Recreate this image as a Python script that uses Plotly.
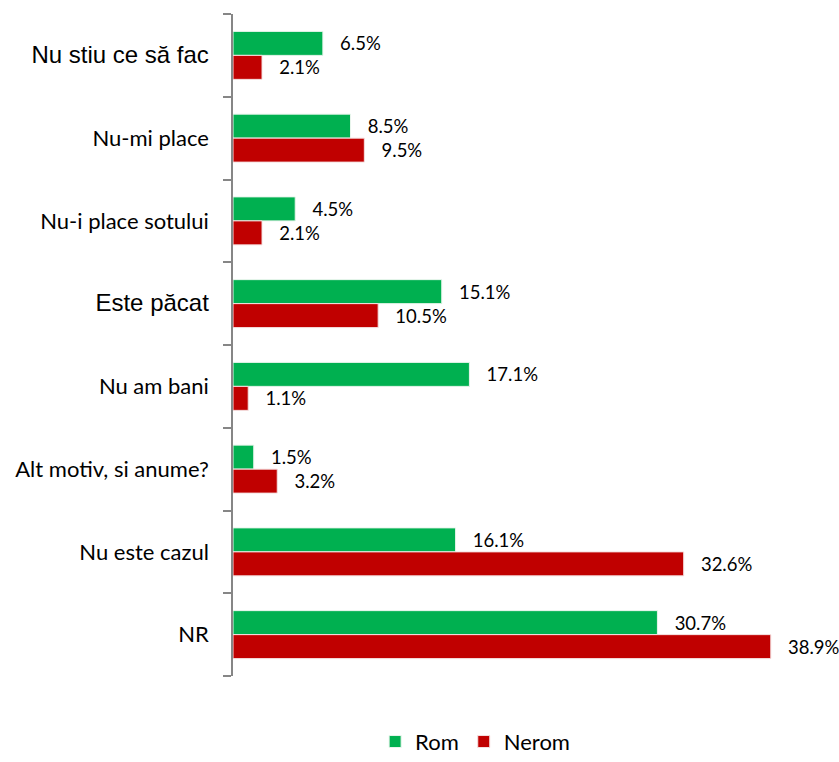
import plotly.graph_objects as go

# Data
categories = ["Nu stiu ce să fac", "Nu-mi place", "Nu-i place sotului", "Este păcat",
              "Nu am bani", "Alt motiv, si anume?", "Nu este cazul", "NR"]
rom = [6.5, 8.5, 4.5, 15.1, 17.1, 1.5, 16.1, 30.7]
nerom = [2.1, 9.5, 2.1, 10.5, 1.1, 3.2, 32.6, 38.9]

# two labels are drawn bigger (and in another font) in the original
big = {"Nu stiu ce să fac", "Este păcat"}
tick_text = [
    f'<span style="font-family:Liberation Sans;font-size:24px">{c}</span>' if c in big else c
    for c in categories
]

pad = "\u00a0" * 3
fig = go.Figure()
fig.add_trace(go.Bar(
    y=categories, x=rom, name="Rom", orientation="h",
    marker=dict(color="#00B050", line=dict(color="#E8F5EC", width=1)),
    text=[f"{pad}{v:.1f}%" for v in rom], textposition="outside",
    textfont=dict(family="Lato", size=18.5, color="#000"), cliponaxis=False,
))
fig.add_trace(go.Bar(
    y=categories, x=nerom, name="Nerom", orientation="h",
    marker=dict(color="#C00000", line=dict(color="#F5E0E0", width=1)),
    text=[f"{pad}{v:.1f}%" for v in nerom], textposition="outside",
    textfont=dict(family="Lato", size=18.5, color="#000"), cliponaxis=False,
))

fig.update_layout(
    width=839, height=762,
    margin=dict(l=233, r=53, t=14, b=86, autoexpand=False),
    barmode="group", bargap=0.42, bargroupgap=0,
    plot_bgcolor="white", paper_bgcolor="white",
    font=dict(family="Lato", size=22, color="#000"),
    legend=dict(orientation="h", x=0.257, xanchor="left", y=-0.131, yanchor="bottom",
                font=dict(family="Lato", size=22), traceorder="normal"),
)
fig.update_xaxes(range=[0, 40], visible=False)
fig.update_yaxes(
    autorange="reversed", tickmode="array", tickvals=categories, ticktext=tick_text,
    showline=True, linecolor="#868686", linewidth=1.5,
    ticks="outside", tickson="boundaries", ticklen=8, tickcolor="#868686", tickwidth=1.5,
    showgrid=False, ticklabelstandoff=18, automargin=False,
)

# page has a default 8px body margin; drop it so the figure fills the window
fig.write_html("out.html", config={"displayModeBar": False},
               post_script="document.body.style.margin='0px';")
